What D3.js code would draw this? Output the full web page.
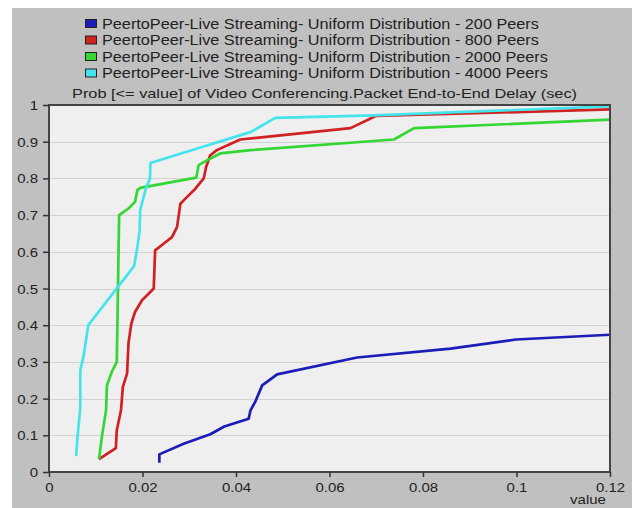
<!DOCTYPE html>
<html>
<head>
<meta charset="utf-8">
<script src="https://cdn.jsdelivr.net/npm/d3@7"></script>
<style>
  body { margin: 0; background: #ffffff; }
  svg { display: block; font-family: "Liberation Sans", Arial, sans-serif; }
</style>
</head>
<body>
<div id="chart"></div>
<script>
// series names (legend order)
var seriesNames = [
  "PeertoPeer-Live Streaming- Uniform Distribution - 200 Peers",
  "PeertoPeer-Live Streaming- Uniform Distribution - 800 Peers",
  "PeertoPeer-Live Streaming- Uniform Distribution - 2000 Peers",
  "PeertoPeer-Live Streaming- Uniform Distribution - 4000 Peers"
];
var seriesColors = ["#1c1cb8", "#d02020", "#33d633", "#44e4ec"];

// CDF points [delay (sec), probability]
var peers200 = [[0.0236,0.025],[0.0236,0.048],[0.0288,0.077],[0.0345,0.103],[0.0375,0.124],[0.0427,0.145],[0.0431,0.168],[0.0441,0.191],[0.0456,0.236],[0.0488,0.266],[0.0659,0.312],[0.0859,0.336],[0.0999,0.361],[0.12,0.374]];
var peers800 = [[0.0107,0.035],[0.0143,0.065],[0.0145,0.114],[0.0154,0.168],[0.0158,0.232],[0.0167,0.268],[0.0170,0.35],[0.0176,0.404],[0.0184,0.436],[0.0199,0.468],[0.0224,0.50],[0.0227,0.604],[0.0245,0.622],[0.0263,0.64],[0.0274,0.668],[0.0281,0.731],[0.0295,0.749],[0.0313,0.772],[0.0331,0.80],[0.0336,0.831],[0.0345,0.863],[0.0359,0.877],[0.0409,0.906],[0.0645,0.937],[0.0699,0.970],[0.12,0.988]];
var peers2000 = [[0.0107,0.035],[0.0113,0.095],[0.0122,0.168],[0.0124,0.236],[0.0134,0.272],[0.0145,0.30],[0.0150,0.70],[0.0170,0.718],[0.0184,0.736],[0.0189,0.768],[0.0195,0.774],[0.0315,0.802],[0.0320,0.836],[0.0338,0.849],[0.0366,0.868],[0.0431,0.877],[0.0738,0.906],[0.0781,0.937],[0.12,0.96]];
var peers4000 = [[0.0058,0.043],[0.0061,0.095],[0.0067,0.177],[0.0067,0.277],[0.0074,0.316],[0.0084,0.40],[0.0182,0.561],[0.0188,0.604],[0.0194,0.659],[0.0195,0.713],[0.0207,0.772],[0.0216,0.80],[0.0217,0.842],[0.0324,0.884],[0.0431,0.926],[0.0484,0.965],[0.0695,0.972],[0.12,0.996]];

var xTicks = [0, 0.02, 0.04, 0.06, 0.08, 0.1, 0.12];
var yTicks = [0, 0.1, 0.2, 0.3, 0.4, 0.5, 0.6, 0.7, 0.8, 0.9, 1];

var chartTitle = "Prob [<= value] of Video Conferencing.Packet End-to-End Delay (sec)";
var xLabel = "value";

var allSeries = [peers200, peers800, peers2000, peers4000];

var width = 632, height = 508;
var plot = { left: 49, top: 105, right: 610, bottom: 472 };

// the original screenshot has its text a bit wider than normal
function stretch(sel, factor) {
  sel.each(function () {
    var w = this.getComputedTextLength();
    d3.select(this)
      .attr("textLength", w * factor)
      .attr("lengthAdjust", "spacingAndGlyphs");
  });
}

var svg = d3.select("#chart").append("svg")
  .attr("width", width)
  .attr("height", height);

// gray panel
svg.append("rect")
  .attr("x", 12).attr("y", 8)
  .attr("width", width - 12).attr("height", height - 8)
  .attr("fill", "#c0c0c0");

var x = d3.scaleLinear().domain([0, 0.12]).range([plot.left, plot.right]);
var y = d3.scaleLinear().domain([0, 1]).range([plot.bottom, plot.top]);

// plot background
svg.append("rect")
  .attr("x", plot.left).attr("y", plot.top)
  .attr("width", plot.right - plot.left).attr("height", plot.bottom - plot.top)
  .attr("fill", "#efefef");

// horizontal grid
svg.append("g")
  .selectAll("line")
  .data(yTicks.slice(1, -1))
  .enter().append("line")
  .attr("x1", plot.left).attr("x2", plot.right)
  .attr("y1", function (d) { return Math.round(y(d)) + 0.5; })
  .attr("y2", function (d) { return Math.round(y(d)) + 0.5; })
  .attr("stroke", "#d2d2d2")
  .attr("stroke-width", 1);

// lines
var line = d3.line()
  .x(function (d) { return x(d[0]); })
  .y(function (d) { return y(d[1]); });

svg.append("g")
  .selectAll("path")
  .data(allSeries)
  .enter().append("path")
  .attr("d", line)
  .attr("fill", "none")
  .attr("stroke", function (d, i) { return seriesColors[i]; })
  .attr("stroke-width", 2.7)
  .attr("stroke-linejoin", "round");

// frame
svg.append("rect")
  .attr("x", plot.left).attr("y", plot.top)
  .attr("width", plot.right - plot.left).attr("height", plot.bottom - plot.top)
  .attr("fill", "none")
  .attr("stroke", "#444")
  .attr("stroke-width", 2);

// axes
var xAxis = d3.axisBottom(x)
  .tickValues(xTicks)
  .tickSize(5)
  .tickFormat(function (d) { return d3.format("~g")(d); });

var yAxis = d3.axisLeft(y)
  .tickValues(yTicks)
  .tickSize(6)
  .tickFormat(function (d) { return d3.format("~g")(d); });

var gx = svg.append("g")
  .attr("transform", "translate(0," + plot.bottom + ")")
  .call(xAxis);
var gy = svg.append("g")
  .attr("transform", "translate(" + plot.left + ",0)")
  .call(yAxis);

[gx, gy].forEach(function (g) {
  g.select(".domain").remove();
  g.selectAll(".tick line").attr("stroke", "#333").attr("stroke-width", 1.5);
  g.selectAll(".tick text")
    .attr("fill", "#222")
    .style("font-size", "13px")
    .style("font-family", "'Liberation Sans', Arial, sans-serif");
});
gx.selectAll(".tick text").attr("dy", "0.9em");
gy.selectAll(".tick text").attr("dy", "0.35em").attr("x", -11);
stretch(gx.selectAll(".tick text"), 1.15);
stretch(gy.selectAll(".tick text"), 1.15);

// x axis label
svg.append("text")
  .attr("x", 588).attr("y", 504)
  .attr("text-anchor", "middle")
  .attr("fill", "#222")
  .style("font-size", "13px")
  .text(xLabel)
  .call(stretch, 1.15);

// title
svg.append("text")
  .attr("x", 72)
  .attr("y", 98)
  .attr("fill", "#222")
  .style("font-size", "13px")
  .text(chartTitle)
  .attr("textLength", 505)
  .attr("lengthAdjust", "spacingAndGlyphs");

// legend
var legend = svg.selectAll(".legend")
  .data(seriesNames)
  .enter().append("g")
  .attr("class", "legend")
  .attr("transform", function (d, i) { return "translate(85," + (19 + i * 16.5) + ")"; });

legend.append("rect")
  .attr("x", 0.5).attr("y", 0.5)
  .attr("width", 11).attr("height", 8)
  .attr("fill", function (d, i) { return seriesColors[i]; })
  .attr("stroke", "#222")
  .attr("stroke-width", 1);

legend.append("text")
  .attr("x", 17)
  .attr("y", 9.5)
  .attr("fill", "#222")
  .style("font-size", "14px")
  .text(function (d) { return d; })
  .call(stretch, 1.16);
</script>
</body>
</html>
